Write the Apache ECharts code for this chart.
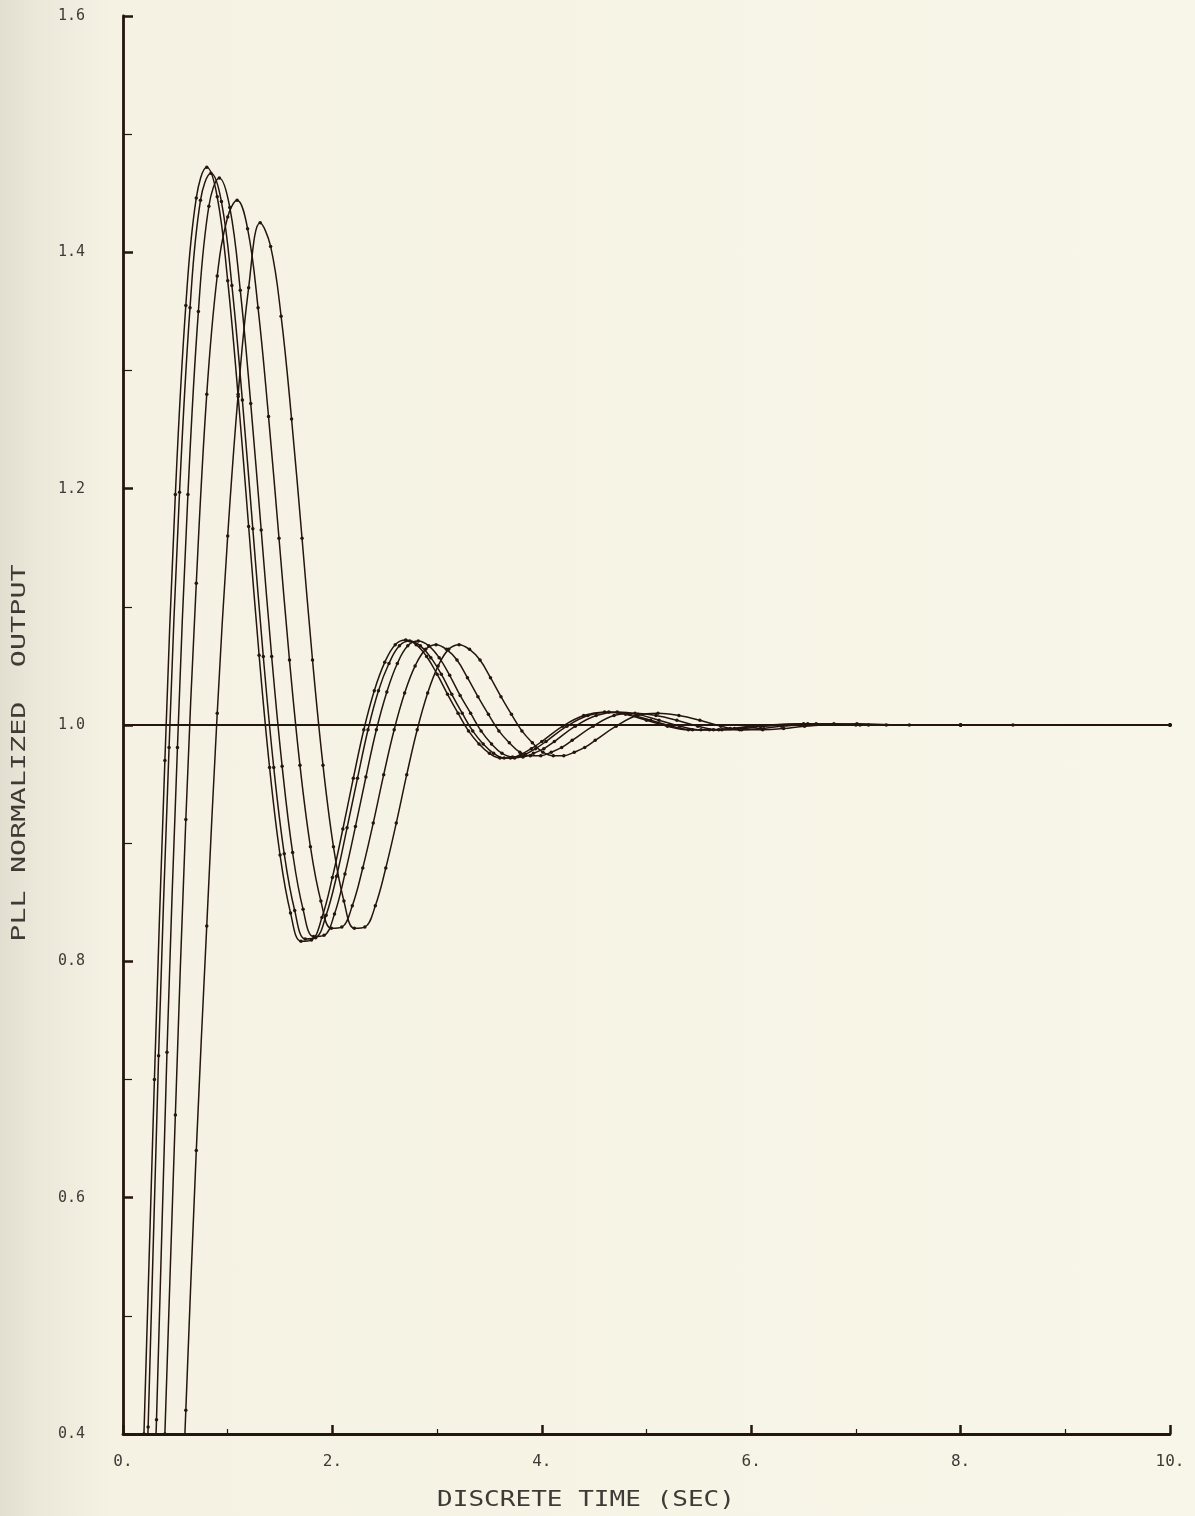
<!DOCTYPE html>
<html>
<head>
<meta charset="utf-8">
<script src="https://cdn.jsdelivr.net/npm/echarts@6/dist/echarts.min.js"></script>
<style>
  html, body {
    margin: 0; padding: 0; width: 1195px; height: 1516px; overflow: hidden;
    background: linear-gradient(to right, #e3dfd0 0px, #ece8d9 35px, #f5f2e3 110px, #f8f6e8 100%);
  }
  #chart { width: 1195px; height: 1516px; }
</style>
</head>
<body>
<div id="chart"></div>
<script>
// Step responses of the loop, [time (s), normalized output]
const resp1 = [[0.1,0.13],[0.2,0.40],[0.3,0.70],[0.4,0.97],[0.5,1.195],[0.6,1.355],[0.7,1.446],[0.8,1.472],[0.9,1.447],[1.0,1.376],[1.1,1.278],[1.2,1.168],[1.3,1.059],[1.4,0.964],[1.5,0.890],[1.6,0.841],[1.7,0.817],[1.8,0.818],[1.9,0.837],[2.0,0.871],[2.1,0.912],[2.2,0.955],[2.3,0.996],[2.4,1.029],[2.5,1.053],[2.6,1.068],[2.7,1.072],[2.8,1.068],[2.9,1.058],[3.0,1.043],[3.1,1.026],[3.2,1.010],[3.3,0.995],[3.4,0.984],[3.5,0.976],[3.6,0.972],[3.7,0.972],[3.8,0.975],[3.9,0.980],[4.0,0.986],[4.2,0.999],[4.4,1.008],[4.6,1.011],[4.8,1.009],[5.0,1.004],[5.2,0.999],[5.4,0.996],[5.6,0.996],[5.8,0.997],[6.0,0.999],[6.5,1.001],[7.0,1.000],[8.0,1.000],[10.0,1.000]];

const resp2 = [[0.14,0.139],[0.24,0.406],[0.34,0.720],[0.44,0.981],[0.54,1.197],[0.64,1.353],[0.74,1.444],[0.84,1.467],[0.94,1.443],[1.04,1.372],[1.14,1.275],[1.24,1.166],[1.34,1.058],[1.44,0.964],[1.54,0.891],[1.64,0.843],[1.74,0.819],[1.84,0.820],[1.94,0.839],[2.04,0.872],[2.14,0.913],[2.24,0.955],[2.34,0.996],[2.44,1.029],[2.54,1.052],[2.64,1.067],[2.74,1.071],[2.84,1.067],[2.94,1.057],[3.04,1.043],[3.14,1.026],[3.24,1.010],[3.34,0.995],[3.44,0.984],[3.54,0.976],[3.64,0.972],[3.74,0.972],[3.84,0.975],[3.94,0.980],[4.04,0.986],[4.24,0.999],[4.44,1.008],[4.64,1.011],[4.84,1.009],[5.04,1.004],[5.24,0.999],[5.44,0.996],[5.64,0.996],[5.84,0.997],[6.04,0.999],[6.54,1.001],[7.04,1.000],[8.0,1.000],[10.0,1.000]];

const resp3 = [[0.22,0.147],[0.32,0.412],[0.42,0.723],[0.52,0.981],[0.62,1.195],[0.72,1.350],[0.82,1.439],[0.92,1.463],[1.02,1.438],[1.12,1.368],[1.22,1.272],[1.32,1.165],[1.42,1.058],[1.52,0.965],[1.62,0.892],[1.72,0.844],[1.82,0.821],[1.92,0.822],[2.02,0.840],[2.12,0.874],[2.22,0.914],[2.32,0.956],[2.42,0.996],[2.52,1.028],[2.62,1.052],[2.72,1.067],[2.82,1.071],[2.92,1.067],[3.02,1.057],[3.12,1.042],[3.22,1.025],[3.32,1.010],[3.42,0.995],[3.52,0.984],[3.62,0.976],[3.72,0.973],[3.82,0.973],[3.92,0.976],[4.02,0.980],[4.12,0.986],[4.32,0.999],[4.52,1.008],[4.72,1.011],[4.92,1.009],[5.12,1.004],[5.32,0.999],[5.52,0.996],[5.72,0.996],[5.92,0.997],[6.12,0.999],[6.62,1.001],[7.12,1.000],[8.0,1.000],[10.0,1.000]];

const resp4 = [[0.30,0.14],[0.40,0.40],[0.50,0.67],[0.60,0.92],[0.70,1.12],[0.80,1.28],[0.90,1.38],[1.00,1.43],[1.09,1.444],[1.19,1.420],[1.29,1.353],[1.39,1.261],[1.49,1.158],[1.59,1.055],[1.69,0.966],[1.79,0.897],[1.89,0.851],[1.99,0.828],[2.09,0.829],[2.19,0.847],[2.29,0.879],[2.39,0.917],[2.49,0.958],[2.59,0.996],[2.69,1.027],[2.79,1.050],[2.89,1.064],[2.99,1.068],[3.09,1.064],[3.19,1.055],[3.29,1.040],[3.39,1.024],[3.49,1.009],[3.59,0.995],[3.69,0.985],[3.79,0.977],[3.89,0.974],[3.99,0.974],[4.09,0.977],[4.19,0.981],[4.29,0.987],[4.49,0.999],[4.69,1.008],[4.89,1.010],[5.09,1.008],[5.29,1.004],[5.49,0.999],[5.69,0.996],[5.89,0.996],[6.09,0.997],[6.29,0.999],[6.79,1.001],[7.29,1.000],[8.0,1.000],[10.0,1.000]];

const resp5 = [[0.50,0.19],[0.60,0.42],[0.70,0.64],[0.80,0.83],[0.90,1.01],[1.00,1.16],[1.10,1.28],[1.20,1.37],[1.31,1.425],[1.41,1.405],[1.51,1.346],[1.61,1.259],[1.71,1.158],[1.81,1.055],[1.91,0.966],[2.01,0.897],[2.11,0.851],[2.21,0.828],[2.31,0.829],[2.41,0.847],[2.51,0.879],[2.61,0.917],[2.71,0.958],[2.81,0.996],[2.91,1.027],[3.01,1.050],[3.11,1.064],[3.21,1.068],[3.31,1.064],[3.41,1.055],[3.51,1.040],[3.61,1.024],[3.71,1.009],[3.81,0.995],[3.91,0.985],[4.01,0.977],[4.11,0.974],[4.21,0.974],[4.31,0.977],[4.41,0.981],[4.51,0.987],[4.71,0.999],[4.91,1.008],[5.11,1.010],[5.31,1.008],[5.51,1.004],[5.71,0.999],[5.91,0.996],[6.11,0.996],[6.31,0.997],[6.51,0.999],[7.01,1.001],[7.51,1.000],[8.5,1.000],[10.0,1.000]];

// Unit reference level
const reference = [[0, 1.0], [10, 1.0]];

const xRange = [0, 10];
const yRange = [0.4, 1.6];

const INK = '#24150f';
const TEXT = '#3f3a36';
const MONO = '"DejaVu Sans Mono", "Liberation Mono", monospace';

const chart = echarts.init(document.getElementById('chart'), null, { renderer: 'canvas' });

const responseSeries = [resp1, resp2, resp3, resp4, resp5].map((d, i) => ({
  name: 'resp' + (i + 1),
  type: 'line',
  data: d,
  smooth: 0.4,
  clip: true,
  symbol: 'circle',
  symbolSize: 3.5,
  showSymbol: true,
  lineStyle: { color: INK, width: 1.5 },
  itemStyle: { color: INK },
  z: 3
}));

chart.setOption({
  animation: false,
  backgroundColor: 'transparent',
  grid: { left: 123, right: 25, top: 16, bottom: 82, outerBoundsMode: 'none' },
  xAxis: {
    type: 'value',
    min: xRange[0], max: xRange[1], interval: 2,
    axisLine: { show: true, lineStyle: { color: INK, width: 2.8 } },
    axisTick: { show: true, inside: true, length: 9, lineStyle: { color: INK, width: 2.5 } },
    minorTick: { show: true, splitNumber: 2, length: 5, lineStyle: { color: INK, width: 1.2 } },
    splitLine: { show: false },
    axisLabel: {
      margin: 20, fontFamily: MONO, fontSize: 16, color: TEXT,
      formatter: v => String(v) + '.'
    }
  },
  yAxis: {
    type: 'value',
    min: yRange[0], max: yRange[1], interval: 0.2,
    axisLine: { show: true, lineStyle: { color: INK, width: 2.8 } },
    axisTick: { show: true, inside: true, length: 10, lineStyle: { color: INK, width: 2.5 } },
    minorTick: { show: true, splitNumber: 2, length: 9, lineStyle: { color: INK, width: 1.2 } },
    splitLine: { show: false },
    axisLabel: {
      margin: 38, fontFamily: MONO, fontSize: 15, color: TEXT,
      formatter: v => v.toFixed(1)
    }
  },
  graphic: [
    {
      type: 'text', x: 586, y: 1501, scaleX: 1.24,
      style: { text: 'DISCRETE TIME (SEC)', font: '21px ' + MONO, fill: TEXT, align: 'center', verticalAlign: 'middle' }
    },
    {
      type: 'text', x: 20, y: 753, rotation: Math.PI / 2, scaleX: 1.5,
      style: { text: 'PLL NORMALIZED  OUTPUT', font: '19px ' + MONO, fill: TEXT, align: 'center', verticalAlign: 'middle' }
    }
  ],
  series: [
    {
      name: 'reference',
      type: 'line',
      data: reference,
      symbol: 'none',
      lineStyle: { color: INK, width: 1.8 },
      z: 2
    },
    ...responseSeries
  ]
});
</script>
</body>
</html>
